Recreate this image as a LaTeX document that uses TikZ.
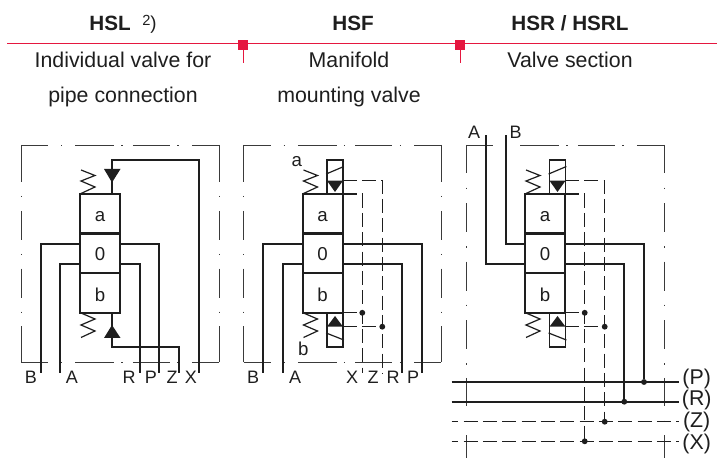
\documentclass[tikz,border=0pt]{standalone}
\usepackage{fontspec}
\setmainfont{Liberation Sans}
\definecolor{hdred}{HTML}{E5173F}
\definecolor{inkgrey}{HTML}{1E1E1E}
\definecolor{framegrey}{HTML}{3A3A3A}
\tikzset{
	headbold/.style={font=\fontsize{15.5}{18}\selectfont\bfseries,text=inkgrey,inner sep=0pt},
	headtext/.style={font=\fontsize{16}{18}\selectfont,text=inkgrey,inner sep=0pt},
	portlabel/.style={font=\fontsize{13.5}{14}\selectfont,text=inkgrey,inner sep=0pt,text height=9.7pt,text depth=0pt},
	rowlabel/.style={font=\fontsize{16}{16}\selectfont,text=inkgrey,inner sep=0pt},
	blockbox/.style={draw=inkgrey,line width=1.5pt,minimum width=30pt,minimum height=29.6pt,inner sep=0pt,
		font=\fontsize{14}{14}\selectfont,text=inkgrey,text height=11pt,text depth=0pt},
	magbox/.style={draw=inkgrey,line width=1.3pt,minimum width=12pt,minimum height=25.5pt,inner sep=0pt},
	pipe/.style={draw=inkgrey,line width=1.5pt},
	pilot/.style={draw=inkgrey,line width=.9pt,dash pattern=on 10.5pt off 4pt},
	thinline/.style={draw=inkgrey,line width=.9pt},
	frametop/.style={draw=framegrey,line width=.72pt,dash pattern=on 20.25pt off 9.75pt on 1.1pt off 9.75pt on 29.25pt off 5.25pt on 1.1pt off 7.5pt on 27.75pt off 5.6pt on 1.1pt off 9.75pt on 20pt},
	frameside/.style={draw=framegrey,line width=.72pt,dash pattern=on 27.75pt off 10.5pt on 1.1pt off 10pt on 21.75pt off 10.5pt on 1.1pt off 10pt on 21.75pt off 10.5pt on 1.1pt off 10pt on 28pt},
	framelong/.style={draw=framegrey,line width=.72pt,dash pattern=on 21pt off 11pt on 1.1pt off 10.5pt on 21.75pt off 10.5pt on 1.1pt off 10.5pt on 21.75pt off 10.5pt on 1.1pt off 10.5pt on 21.75pt off 10.5pt on 1.1pt off 10pt on 21pt off 11pt on 1.1pt off 10pt on 20pt},
	hdrule/.style={draw=hdred,line width=.75pt},
	hdtick/.style={draw=hdred,line width=.5pt},
	dotmark/.style={circle,fill=inkgrey,inner sep=0pt,minimum size=4.4pt},
}
\begin{document}
\begin{tikzpicture}[x=.75pt,y=-.75pt]
	\newcommand{\myvalvebody}[1]{
		%Three positions
		\node [blockbox] (#1a) at (100,213.7) {a};
		\node [blockbox] (#10) at (100,253.4) {0};
		\node [blockbox,text height=13.5pt] (#1b) at (100,293) {b};
		%Springs
		\draw [thinline] (81,170) -- (95,175.5) -- (81,181) -- (95,187) -- (81,193.5);
		\draw [thinline] (81,313) -- (95,319) -- (81,325) -- (95,331) -- (81,337.5);
		%Port points on the middle block
		\coordinate (#1l1) at (80,243.7);
		\coordinate (#1l2) at (80,263.7);
		\coordinate (#1r1) at (120,243.7);
		\coordinate (#1r2) at (120,263.7);
	}
	\newcommand{\mysolenoids}[1]{
		%Solenoid boxes
		\node [magbox] (#1mt) at (112.5,177) {};
		\node [magbox] (#1mb) at (112.5,330) {};
		\draw [thinline] (#1mt.west |- 0,174) -- (#1mt.east |- 0,166.5);
		\draw [thinline] (#1mb.west |- 0,333) -- (#1mb.east |- 0,340);
		%Pilot triangles
		\fill [inkgrey] (104.5,180.7) -- (120.5,180.7) -- (112.5,192) -- cycle;
		\fill [inkgrey] (104.5,326.7) -- (120.5,326.7) -- (112.5,316) -- cycle;
		\coordinate (#1tt) at (120,180.7);
		\coordinate (#1tb) at (120,194);
		\coordinate (#1bt) at (120,312.8);
		\coordinate (#1bb) at (120,326.7);
		%Pilot lines
		\draw [pilot] (#1tt) -| (#1Z);
		\draw [pilot] (#1tb) -| (#1X);
		\node [dotmark] (#1dx) at (#1X |- #1bt) {};
		\node [dotmark] (#1dz) at (#1Z |- #1bb) {};
		\draw [pilot] (#1bt) -- (#1dx);
		\draw [pilot] (#1bb) -- (#1dz);
	}
	\useasboundingbox (0,0) rectangle (717,459);
	%Header
	\node [headbold] (hsl) at (110,23) {HSL};
	\node [text=inkgrey,inner sep=0pt] (note) at (149.5,24) {\raisebox{3pt}{\fontsize{11}{11}\selectfont 2}{\fontsize{14}{14}\selectfont )}};
	\node [headbold] (hsf) at (353,23) {HSF};
	\node [headbold] (hsr) at (570,23) {HSR / HSRL};
	\node [headtext] (t11) at (123,60) {Individual valve for};
	\node [headtext] (t12) at (123,97) {pipe connection};
	\node [headtext] (t21) at (349,60) {Manifold};
	\node [headtext] (t22) at (349,97) {mounting valve};
	\node [headtext] (t31) at (570,60) {Valve section};
	\draw [hdrule] (7,43.5) -- (717,43.5);
	\fill [hdred] (238,40) rectangle (248,50);
	\fill [hdred] (455,40) rectangle (465,50);
	\draw [hdtick] (243,50) -- (243,63);
	\draw [hdtick] (460,50) -- (460,63);
	%Panel HSL
	\begin{scope}
		\draw [frametop] (21,145) -- (219,145);
		\draw [frametop] (21,362) -- (219,362);
		\draw [frameside] (21,145) -- (21,362);
		\draw [frameside] (219,145) -- (219,362);
		\myvalvebody{p}
		\fill [inkgrey] (104,169) -- (120.5,169) -- (112,182.5) -- cycle;
		\fill [inkgrey] (104,338) -- (120.5,338) -- (112,325) -- cycle;
		\coordinate (pta) at (112,194);
		\coordinate (ptb) at (112,169);
		\coordinate (pba) at (112,313);
		\coordinate (pbb) at (112,338);
		\coordinate (pB) at (40.7,373);
		\coordinate (pA) at (60.3,373);
		\coordinate (pR) at (139.7,373);
		\coordinate (pP) at (159.3,373);
		\coordinate (pZ) at (179.3,373);
		\coordinate (pX) at (199,373);
		\draw [pipe] (pl1) -| (pB);
		\draw [pipe] (pl2) -| (pA);
		\draw [pipe] (pr1) -| (pP);
		\draw [pipe] (pr2) -| (pR);
		\draw [pipe] (pta) -- (ptb) -- (112,160) -| (pX);
		\draw [pipe] (pba) -- (pbb) -- (112,347.5) -| (pZ);
		\node [portlabel] (lpB) at (31,377) {B};
		\node [portlabel] (lpA) at (72,377) {A};
		\node [portlabel] (lpR) at (129,377) {R};
		\node [portlabel] (lpP) at (151,377) {P};
		\node [portlabel] (lpZ) at (172,377) {Z};
		\node [portlabel] (lpX) at (191,377) {X};
	\end{scope}
	%Panel HSF
	\begin{scope}[shift={(222.5,0)}]
		\draw [frametop] (21,145) -- (219,145);
		\draw [frametop] (21,362) -- (219,362);
		\draw [frameside] (21,145) -- (21,362);
		\draw [frameside] (219,145) -- (219,362);
		\myvalvebody{f}
		\coordinate (fB) at (40.7,373);
		\coordinate (fA) at (60.7,373);
		\coordinate (fR) at (179.2,373);
		\coordinate (fP) at (199.2,373);
		\coordinate (fX) at (139.8,373);
		\coordinate (fZ) at (159.8,373);
		\mysolenoids{f}
		\draw [pipe] (fl1) -| (fB);
		\draw [pipe] (fl2) -| (fA);
		\draw [pipe] (fr1) -| (fP);
		\draw [pipe] (fr2) -| (fR);
		\node [portlabel] (lfB) at (30.5,377) {B};
		\node [portlabel] (lfA) at (72.5,377) {A};
		\node [portlabel] (lfX) at (129.5,377) {X};
		\node [portlabel] (lfZ) at (150.5,377) {Z};
		\node [portlabel] (lfR) at (170.5,377) {R};
		\node [portlabel] (lfP) at (190.5,377) {P};
		\node [font=\fontsize{14}{14}\selectfont,text=inkgrey,inner sep=0pt] (lfa) at (74.2,162) {a};
		\node [font=\fontsize{14}{14}\selectfont,text=inkgrey,inner sep=0pt] (lfb) at (80.8,349) {b};
	\end{scope}
	%Panel HSR
	\begin{scope}[shift={(445,0)}]
		\draw [frametop] (21,145) -- (219,145);
		\draw [framelong] (21,145) -- (21,458);
		\draw [framelong] (219,145) -- (219,458);
		\myvalvebody{r}
		\coordinate (rA) at (41,135);
		\coordinate (rB) at (60.7,135);
		\coordinate (rX) at (139.7,441.3);
		\coordinate (rZ) at (159.7,421.7);
		\mysolenoids{r}
		%Supply rows
		\coordinate (rPa) at (6.7,382);
		\coordinate (rPb) at (234,382);
		\coordinate (rRa) at (6.7,401.7);
		\coordinate (rRb) at (234,401.7);
		\coordinate (rZa) at (6.7,421.7);
		\coordinate (rZb) at (234,421.7);
		\coordinate (rXa) at (6.7,441.3);
		\coordinate (rXb) at (234,441.3);
		\draw [pipe] (rPa) -- (rPb);
		\draw [pipe] (rRa) -- (rRb);
		\draw [pilot,dash phase=5.6pt] (rZa) -- (rZb);
		\draw [pilot,dash phase=5.6pt] (rXa) -- (rXb);
		\node [dotmark] (rdP) at (199,382) {};
		\node [dotmark] (rdR) at (179.3,401.7) {};
		\node [dotmark] (rdZ) at (rZ) {};
		\node [dotmark] (rdX) at (rX) {};
		\draw [pipe] (rl1) -| (rB);
		\draw [pipe] (rl2) -| (rA);
		\draw [pipe] (rr1) -| (rdP);
		\draw [pipe] (rr2) -| (rdR);
		\node [portlabel] (lrA) at (29,132.5) {A};
		\node [portlabel] (lrB) at (70.7,132.5) {B};
		\node [rowlabel] (lrP) at (251.7,379) {(P)};
		\node [rowlabel] (lrR) at (251.7,400) {(R)};
		\node [rowlabel] (lrZ) at (251.7,422) {(Z)};
		\node [rowlabel] (lrX) at (251.7,444) {(X)};
	\end{scope}
\end{tikzpicture}
\end{document}
